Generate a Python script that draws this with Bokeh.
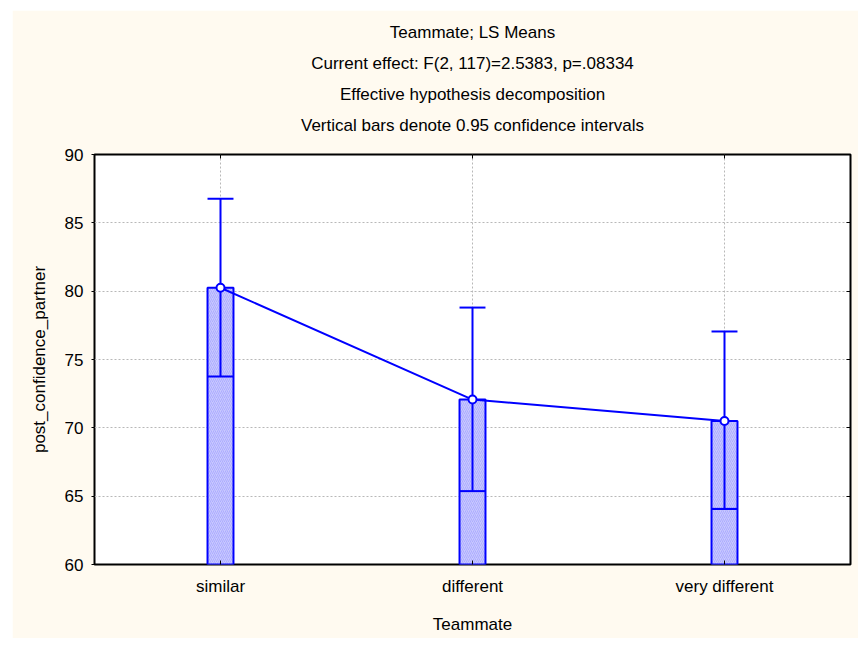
from bokeh.plotting import figure
from bokeh.models import (ColumnDataSource, FactorRange, Range1d, LinearAxis,
                          CategoricalAxis, Title, FixedTicker)
from bokeh.transform import dodge
from bokeh.embed import file_html
from bokeh.resources import INLINE

# ---- data ----
categories = ["similar", "different", "very different"]
ls_means = [80.25, 72.07, 70.50]
ci_lower = [73.75, 65.37, 64.07]
ci_upper = [86.77, 78.80, 77.05]
y_ticks = [60, 65, 70, 75, 80, 85, 90]
title_lines = [
    "Teammate; LS Means",
    "Current effect: F(2, 117)=2.5383, p=.08334",
    "Effective hypothesis decomposition",
    "Vertical bars denote 0.95 confidence intervals",
]
x_title = "Teammate"
y_title = "post_confidence_partner"

FONT = "Liberation Sans"
FS = "17px"
BLUE = "#0000ff"
BAR_W = 0.103

W, H = 846, 628
MB_L, MB_R, MB_T, MB_B = 82, 8, 144, 74

src = ColumnDataSource(dict(x=categories, mean=ls_means, lower=ci_lower, upper=ci_upper))

p = figure(x_range=FactorRange(*categories), y_range=Range1d(y_ticks[0], y_ticks[-1]),
           width=W, height=H, margin=(10, 0, 10, 12),
           output_backend="svg", toolbar_location=None,
           min_border_left=MB_L, min_border_right=MB_R,
           min_border_top=MB_T, min_border_bottom=MB_B,
           background_fill_color="white", border_fill_color="#fffaf0",
           outline_line_color="black", outline_line_width=2)

# grids
for g in (p.xgrid, p.ygrid):
    g.grid_line_color = "#b8b8b8"
    g.grid_line_dash = "2 2"
    g.grid_line_width = 1

# axes
p.yaxis.ticker = FixedTicker(ticks=y_ticks)
for ax in (p.xaxis, p.yaxis):
    ax.axis_line_color = None
    ax.minor_tick_line_color = None
    ax.major_label_text_font = FONT
    ax.major_label_text_font_size = FS
    ax.major_label_text_color = "black"
    ax.axis_label_text_font = FONT
    ax.axis_label_text_font_size = FS
    ax.axis_label_text_font_style = "normal"
    ax.axis_label_text_color = "black"
    ax.major_tick_line_color = "black"
    ax.major_tick_line_width = 1

p.yaxis.axis_label = y_title
p.yaxis.major_tick_out = 3
p.yaxis.major_tick_in = 0
p.yaxis.major_label_standoff = 8
p.yaxis.axis_label_standoff = 13

p.xaxis.axis_label = x_title
p.xaxis.major_tick_out = 0
p.xaxis.major_tick_in = 4
p.xaxis.major_label_standoff = 12
p.xaxis.axis_label_standoff = 16

# inward ticks on top and right edges (no labels drawn)
top_ax = CategoricalAxis(axis_line_color=None, major_tick_in=4, major_tick_out=0,
                         major_label_text_font_size="1px", major_label_text_color=None,
                         major_label_standoff=0, major_tick_line_color="black")
p.add_layout(top_ax, "above")
# invisible spacer between frame and the title block
spacer_ax = CategoricalAxis(axis_line_color=None, major_tick_in=0, major_tick_out=15,
                            major_label_text_font_size="1px", major_label_text_color=None,
                            major_label_standoff=0, major_tick_line_color=None)
p.add_layout(spacer_ax, "above")
right_ax = LinearAxis(ticker=FixedTicker(ticks=y_ticks), axis_line_color=None,
                      major_tick_in=4, major_tick_out=0, minor_tick_line_color=None,
                      major_label_text_font_size="1px", major_label_text_color=None,
                      major_label_standoff=0, major_tick_line_color="black")
p.add_layout(right_ax, "right")

# bars (from axis floor to LS mean)
p.vbar(x="x", top="mean", bottom=y_ticks[0], width=BAR_W, source=src,
       fill_color="#c8c8ff", hatch_pattern="/", hatch_color="#a0a0ff",
       hatch_scale=4, hatch_weight=0.7,
       line_color=BLUE, line_width=2)

# confidence interval lines
p.segment(x0="x", y0="lower", x1="x", y1="upper", source=src,
          line_color=BLUE, line_width=2)
p.segment(x0=dodge("x", -BAR_W / 2, range=p.x_range), y0="upper",
          x1=dodge("x", BAR_W / 2, range=p.x_range), y1="upper", source=src,
          line_color=BLUE, line_width=2)
p.segment(x0=dodge("x", -BAR_W / 2, range=p.x_range), y0="lower",
          x1=dodge("x", BAR_W / 2, range=p.x_range), y1="lower", source=src,
          line_color=BLUE, line_width=2)

# mean line + markers
p.line(x="x", y="mean", source=src, line_color=BLUE, line_width=2)
p.scatter(x="x", y="mean", source=src, marker="circle", size=8,
          fill_color="white", line_color=BLUE, line_width=2)

# multi-line title above the frame (later titles sit farther from the frame)
for txt in reversed(title_lines):
    p.add_layout(Title(text=txt, align="center", text_font=FONT, text_font_size=FS,
                       text_font_style="normal", text_color="black",
                       standoff=10, offset=0), "above")

open("out.html", "w").write(file_html(p, INLINE))
